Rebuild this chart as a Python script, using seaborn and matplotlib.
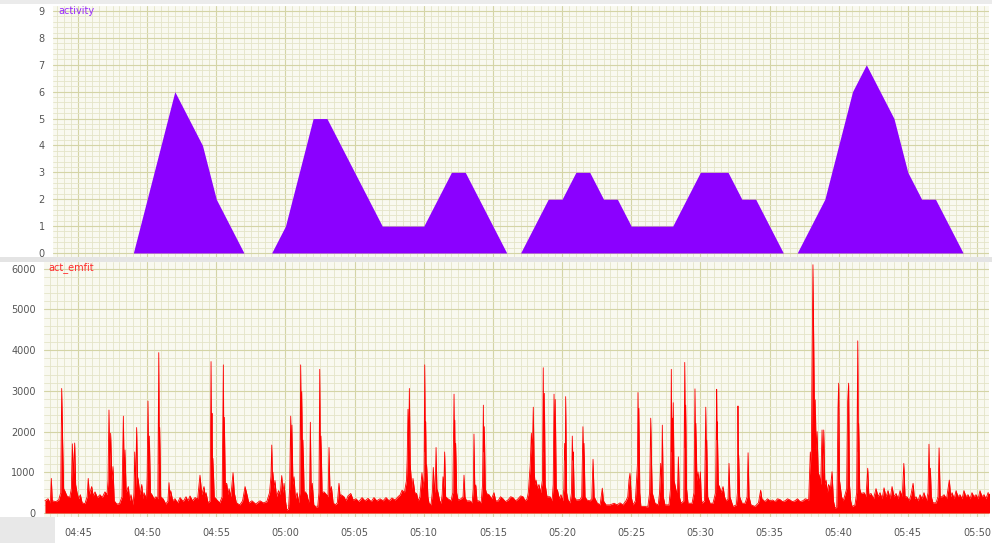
import matplotlib
matplotlib.use("Agg")
import matplotlib.pyplot as plt
import matplotlib.dates as mdates
from matplotlib.patches import Rectangle
from matplotlib.ticker import MultipleLocator
import pandas as pd
import seaborn as sns

# ---- activity score, one value per minute ----
activity_time = [
    "04:49", "04:50", "04:51", "04:52", "04:53", "04:54", "04:55", "04:56", "04:57", "04:58",
    "04:59", "05:00", "05:01", "05:02", "05:03", "05:04", "05:05", "05:06", "05:07", "05:08",
    "05:09", "05:10", "05:11", "05:12", "05:13", "05:14", "05:15", "05:16", "05:17", "05:18",
    "05:19", "05:20", "05:21", "05:22", "05:23", "05:24", "05:25", "05:26", "05:27", "05:28",
    "05:29", "05:30", "05:31", "05:32", "05:33", "05:34", "05:35", "05:36", "05:37", "05:38",
    "05:39", "05:40", "05:41", "05:42", "05:43", "05:44", "05:45", "05:46", "05:47", "05:48",
    "05:49",
]
activity_value = [
    0, 2, 4, 6, 5, 4, 2, 1, 0, 0,
    0, 1, 3, 5, 5, 4, 3, 2, 1, 1,
    1, 1, 2, 3, 3, 2, 1, 0, 0, 1,
    2, 2, 3, 3, 2, 2, 1, 1, 1, 1,
    2, 3, 3, 3, 2, 2, 1, 0, 0, 1,
    2, 4, 6, 7, 6, 5, 3, 2, 2, 1,
    0,
]

# ---- raw emfit activity: (minutes after 04:45, value) ----
emfit_samples = [
    (-2.39, 300), (-2.17, 350), (-2.00, 250), (-1.93, 850), (-1.86, 300), (-1.60, 280), (-1.40, 320),
    (-1.25, 500), (-1.18, 3060), (-1.11, 1750), (-1.04, 600), (-0.96, 550), (-0.80, 420), (-0.60, 380),
    (-0.48, 600), (-0.41, 1700), (-0.33, 900), (-0.24, 1720), (-0.17, 700), (-0.07, 500), (0.05, 350),
    (0.17, 450), (0.30, 250), (0.50, 230), (0.66, 400), (0.74, 850), (0.82, 450), (0.99, 650),
    (1.10, 420), (1.23, 520), (1.40, 380), (1.59, 450), (1.75, 380), (1.95, 520), (2.10, 450),
    (2.17, 800), (2.24, 2530), (2.30, 1000), (2.36, 1960), (2.45, 800), (2.53, 1140), (2.62, 300),
    (2.80, 220), (3.00, 230), (3.18, 400), (3.28, 2380), (3.34, 900), (3.40, 1550), (3.48, 500),
    (3.64, 650), (3.74, 300), (3.83, 450), (3.98, 200), (4.05, 500), (4.10, 1500), (4.17, 600),
    (4.24, 2100), (4.30, 900), (4.36, 800), (4.48, 450), (4.61, 700), (4.70, 350), (4.77, 500),
    (4.95, 350), (5.00, 900), (5.06, 2750), (5.11, 1000), (5.16, 1890), (5.24, 500), (5.35, 450),
    (5.50, 350), (5.64, 400), (5.77, 350), (5.84, 3940), (5.88, 1200), (5.91, 2100), (5.98, 400),
    (6.15, 350), (6.35, 220), (6.50, 300), (6.58, 745), (6.64, 400), (6.70, 550), (6.85, 300),
    (7.01, 350), (7.20, 250), (7.38, 380), (7.60, 280), (7.81, 400), (7.95, 300), (8.10, 420),
    (8.28, 300), (8.46, 380), (8.65, 350), (8.82, 930), (8.95, 450), (9.11, 650), (9.20, 400),
    (9.26, 500), (9.40, 250), (9.55, 300), (9.62, 3720), (9.66, 1500), (9.69, 2450), (9.73, 900),
    (9.76, 1340), (9.85, 400), (10.05, 320), (10.25, 250), (10.42, 400), (10.51, 3640), (10.55, 1200),
    (10.58, 2350), (10.65, 700), (10.75, 730), (10.85, 450), (10.92, 600), (11.05, 400), (11.21, 990),
    (11.30, 500), (11.45, 250), (11.70, 200), (11.90, 300), (12.00, 500), (12.08, 650), (12.22, 450),
    (12.35, 250), (12.58, 300), (12.85, 220), (13.16, 300), (13.40, 250), (13.65, 280), (13.85, 500),
    (13.95, 900), (14.01, 1670), (14.06, 800), (14.10, 1000), (14.17, 600), (14.24, 800), (14.35, 400),
    (14.50, 550), (14.62, 450), (14.73, 920), (14.82, 500), (14.90, 730), (15.00, 300), (15.10, 75),
    (15.22, 100), (15.30, 600), (15.38, 2380), (15.43, 1200), (15.47, 2160), (15.54, 700), (15.62, 890),
    (15.72, 350), (15.84, 500), (15.96, 250), (16.04, 500), (16.10, 3640), (16.14, 1800), (16.18, 2980),
    (16.23, 1200), (16.27, 1790), (16.35, 500), (16.44, 520), (16.56, 450), (16.66, 250), (16.74, 400),
    (16.80, 2230), (16.86, 500), (16.94, 730), (17.05, 200), (17.20, 150), (17.33, 150), (17.42, 500),
    (17.48, 3530), (17.52, 1300), (17.57, 1890), (17.65, 500), (17.79, 520), (17.97, 450), (18.08, 400),
    (18.15, 1610), (18.22, 500), (18.32, 650), (18.45, 250), (18.60, 200), (18.75, 250), (18.87, 730),
    (18.95, 400), (19.02, 450), (19.23, 400), (19.38, 300), (19.52, 420), (19.72, 480), (19.90, 320),
    (20.10, 350), (20.30, 280), (20.54, 380), (20.75, 300), (20.97, 360), (21.20, 280), (21.40, 380),
    (21.60, 300), (21.84, 350), (22.05, 300), (22.27, 380), (22.50, 300), (22.70, 370), (22.92, 320),
    (23.14, 400), (23.30, 450), (23.43, 560), (23.60, 500), (23.75, 800), (23.80, 1300), (23.86, 2550),
    (23.91, 1500), (23.96, 3060), (24.02, 1200), (24.08, 900), (24.15, 600), (24.22, 850), (24.35, 500),
    (24.48, 480), (24.60, 300), (24.72, 400), (24.87, 990), (24.95, 600), (25.02, 900), (25.07, 3640),
    (25.11, 1500), (25.14, 2240), (25.18, 900), (25.21, 1180), (25.30, 400), (25.38, 240), (25.52, 200),
    (25.62, 500), (25.69, 1120), (25.78, 500), (25.84, 800), (25.89, 1610), (25.95, 600), (26.03, 500),
    (26.15, 300), (26.25, 240), (26.33, 450), (26.39, 890), (26.45, 600), (26.51, 1500), (26.58, 400),
    (26.75, 350), (26.97, 300), (27.10, 500), (27.19, 2920), (27.22, 1500), (27.24, 2280), (27.28, 900),
    (27.31, 1710), (27.38, 500), (27.48, 320), (27.69, 350), (27.84, 400), (27.91, 930), (27.98, 400),
    (28.09, 300), (28.34, 300), (28.50, 250), (28.58, 600), (28.63, 1940), (28.69, 600), (28.76, 690),
    (28.85, 300), (28.99, 300), (29.15, 250), (29.25, 700), (29.31, 2650), (29.34, 1500), (29.38, 2120),
    (29.45, 600), (29.54, 480), (29.72, 450), (29.90, 350), (30.08, 500), (30.20, 300), (30.37, 300),
    (30.55, 400), (30.73, 350), (30.90, 280), (31.09, 320), (31.28, 400), (31.45, 380), (31.65, 300),
    (31.82, 350), (32.00, 420), (32.18, 400), (32.33, 300), (32.47, 350), (32.56, 500), (32.63, 850),
    (32.70, 1200), (32.78, 1960), (32.85, 1500), (32.92, 2600), (32.99, 1000), (33.05, 700), (33.12, 810),
    (33.22, 600), (33.33, 700), (33.45, 500), (33.58, 800), (33.64, 3570), (33.68, 1500), (33.72, 2940),
    (33.78, 700), (33.91, 400), (34.13, 400), (34.28, 300), (34.36, 700), (34.42, 2920), (34.46, 1300),
    (34.51, 2790), (34.58, 600), (34.67, 560), (34.80, 350), (34.92, 450), (35.05, 300), (35.13, 600),
    (35.19, 1710), (35.23, 1300), (35.26, 2860), (35.33, 500), (35.43, 320), (35.58, 250), (35.68, 500),
    (35.74, 1890), (35.78, 1300), (35.81, 1500), (35.88, 400), (36.01, 320), (36.30, 330), (36.42, 400),
    (36.51, 2120), (36.55, 1300), (36.59, 1710), (36.66, 400), (36.80, 320), (37.02, 300), (37.15, 350),
    (37.24, 1320), (37.32, 400), (37.53, 250), (37.75, 200), (37.91, 610), (37.99, 300), (38.18, 200),
    (38.47, 200), (38.76, 240), (38.98, 200), (39.19, 250), (39.40, 200), (39.62, 300), (39.75, 400),
    (39.84, 810), (39.91, 975), (40.00, 400), (40.13, 200), (40.30, 300), (40.40, 890), (40.45, 1200),
    (40.49, 2960), (40.53, 1400), (40.56, 2570), (40.62, 500), (40.70, 160), (40.99, 160), (41.20, 150),
    (41.33, 500), (41.41, 2330), (41.46, 1340), (41.52, 500), (41.72, 240), (41.95, 200), (42.05, 500),
    (42.13, 1220), (42.20, 700), (42.25, 2160), (42.32, 400), (42.44, 200), (42.73, 200), (42.84, 600),
    (42.90, 3530), (42.94, 1500), (42.97, 2330), (43.00, 1500), (43.04, 2710), (43.10, 800), (43.24, 560),
    (43.34, 500), (43.41, 1380), (43.48, 400), (43.60, 240), (43.80, 300), (43.87, 3700), (43.91, 1600),
    (43.94, 2650), (44.00, 600), (44.11, 240), (44.40, 240), (44.54, 500), (44.61, 3050), (44.65, 1500),
    (44.68, 2200), (44.75, 800), (44.83, 1010), (44.92, 700), (45.00, 1010), (45.06, 400), (45.12, 240),
    (45.30, 300), (45.39, 2600), (45.43, 1300), (45.46, 1790), (45.53, 400), (45.70, 240), (45.91, 240),
    (46.10, 500), (46.18, 3040), (46.20, 1800), (46.22, 2240), (46.30, 700), (46.38, 650), (46.50, 500),
    (46.64, 650), (46.75, 400), (46.85, 300), (47.00, 350), (47.07, 1220), (47.14, 400), (47.36, 160),
    (47.60, 200), (47.68, 500), (47.72, 2630), (47.75, 1300), (47.77, 1420), (47.84, 400), (48.01, 240),
    (48.23, 240), (48.38, 400), (48.45, 1480), (48.52, 400), (48.66, 200), (48.95, 160), (49.20, 250),
    (49.36, 560), (49.45, 350), (49.67, 280), (49.85, 350), (50.04, 300), (50.22, 320), (50.40, 280),
    (50.58, 350), (50.76, 330), (50.94, 280), (51.12, 300), (51.30, 350), (51.48, 320), (51.66, 280),
    (51.84, 300), (52.02, 350), (52.21, 280), (52.40, 300), (52.60, 350), (52.83, 320), (52.95, 1500),
    (53.02, 1200), (53.07, 3400), (53.14, 6100), (53.21, 3720), (53.26, 2000), (53.31, 2780), (53.37, 1500),
    (53.44, 2000), (53.52, 1000), (53.62, 890), (53.70, 700), (53.80, 2040), (53.86, 900), (53.92, 2040),
    (54.00, 700), (54.09, 810), (54.18, 500), (54.27, 700), (54.40, 600), (54.52, 1015), (54.62, 300),
    (54.74, 115), (54.86, 150), (54.90, 1000), (54.95, 2570), (55.00, 3190), (55.06, 800), (55.21, 400),
    (55.33, 300), (55.46, 450), (55.58, 600), (55.65, 2740), (55.72, 3190), (55.78, 700), (55.87, 300),
    (55.97, 155), (56.18, 200), (56.30, 500), (56.38, 4230), (56.42, 1500), (56.45, 2200), (56.52, 600),
    (56.62, 480), (56.84, 500), (56.98, 400), (57.10, 1100), (57.18, 450), (57.34, 480), (57.52, 350),
    (57.70, 600), (57.85, 400), (57.99, 500), (58.14, 350), (58.28, 620), (58.42, 400), (58.57, 550),
    (58.72, 350), (58.86, 650), (59.00, 400), (59.15, 480), (59.30, 350), (59.44, 550), (59.60, 400),
    (59.71, 1220), (59.80, 400), (59.94, 400), (60.10, 300), (60.23, 450), (60.38, 730), (60.48, 350),
    (60.59, 400), (60.74, 300), (60.88, 450), (61.03, 350), (61.17, 500), (61.35, 300), (61.46, 500),
    (61.53, 1690), (61.58, 700), (61.63, 1100), (61.70, 400), (61.82, 250), (62.04, 250), (62.18, 400),
    (62.26, 1600), (62.34, 400), (62.47, 400), (62.62, 450), (62.80, 350), (63.00, 810), (63.10, 400),
    (63.20, 500), (63.35, 350), (63.49, 550), (63.62, 400), (63.77, 450), (63.92, 350), (64.06, 550),
    (64.20, 400), (64.35, 450), (64.50, 350), (64.64, 500), (64.78, 400), (64.93, 450), (65.08, 350),
    (65.22, 550), (65.36, 400), (65.51, 450), (65.65, 350), (65.80, 500), (66.02, 450),
]

day = "2024-03-12 "
origin = pd.Timestamp(day + "04:45")

act = pd.DataFrame({
    "time": pd.to_datetime([day + t for t in activity_time]),
    "activity": activity_value,
})
emf = pd.DataFrame(emfit_samples, columns=["offset_min", "act_emfit"])
emf["time"] = origin + pd.to_timedelta(emf["offset_min"], unit="min")

sns.set_theme(style="white")
plt.rcParams["font.family"] = ["DejaVu Sans"]

W, H = 992, 543
fig = plt.figure(figsize=(W / 100, H / 100), dpi=100, facecolor="white")


def px_rect(left, top, right, bottom):
    return [left / W, 1 - bottom / H, (right - left) / W, (bottom - top) / H]


ax1 = fig.add_axes(px_rect(53, 6, 989, 257))
ax2 = fig.add_axes(px_rect(44, 262, 989, 517))

# light grey bands of the viewer frame
for (l, t, r, b, c) in [(0, 0, W, 4, "#ebebeb"), (0, 257, W, 262, "#e4e4e4"),
                        (0, 517, 55, H, "#e8e8e8")]:
    fig.add_artist(Rectangle((l / W, 1 - b / H), (r - l) / W, (b - t) / H,
                             transform=fig.transFigure, color=c, lw=0, zorder=0))

BG = "#f9f9f0"
MINOR = "#e4e4c8"
MAJOR = "#d4d4a6"
TICK = "#666666"


def minutes(m):
    return origin + pd.Timedelta(minutes=m)


for ax in (ax1, ax2):
    ax.set_facecolor(BG)
    for s in ax.spines.values():
        s.set_visible(False)
    ax.xaxis.set_major_locator(mdates.MinuteLocator(byminute=range(0, 60, 5)))
    ax.xaxis.set_minor_locator(mdates.SecondLocator(bysecond=[0, 30]))
    ax.xaxis.set_major_formatter(mdates.DateFormatter("%H:%M"))
    ax.grid(which="minor", color=MINOR, lw=0.6)
    ax.grid(which="major", color=MAJOR, lw=0.8)
    ax.set_axisbelow(True)
    ax.tick_params(axis="both", which="both", colors=TICK, labelcolor="#555555",
                   labelsize=7, direction="out")
    ax.tick_params(axis="y", which="major", length=4, width=0.8, pad=2)
    ax.tick_params(axis="y", which="minor", length=2, width=0.6)

# top panel: activity score
ax1.fill_between(act["time"], 0, act["activity"], color="#8b00ff", lw=0, zorder=3)
ax1.set_xlim(minutes(-1.808), minutes(65.87))
ax1.set_ylim(-0.149, 9.186)
ax1.yaxis.set_major_locator(MultipleLocator(1))
ax1.yaxis.set_minor_locator(MultipleLocator(0.2))
ax1.tick_params(axis="x", which="both", length=0, labelbottom=False)

# bottom panel: emfit raw activity
ax2.fill_between(emf["time"], 0, emf["act_emfit"], color="#ff0000", lw=0, zorder=3)
sns.lineplot(data=emf, x="time", y="act_emfit", ax=ax2, color="#ff0000", lw=0.6,
             estimator=None, sort=False, zorder=4)
ax2.set_xlim(minutes(-2.458), minutes(65.87))
ax2.set_ylim(-98, 6167)
ax2.yaxis.set_major_locator(MultipleLocator(1000))
ax2.yaxis.set_minor_locator(MultipleLocator(200))
ax2.tick_params(axis="x", which="major", length=5, width=0.8, pad=3)
ax2.tick_params(axis="x", which="minor", length=3, width=0.6)

for ax in (ax1, ax2):
    ax.set_xlabel("")
    ax.set_ylabel("")

fig.text(58 / W, 1 - 11 / H, "activity", color="#9a2cff", fontsize=7, va="center", zorder=5)
fig.text(48 / W, 1 - 268 / H, "act_emfit", color="#ff2a2a", fontsize=7, va="center", zorder=5)

fig.savefig("out.png", dpi=100, facecolor="white")
